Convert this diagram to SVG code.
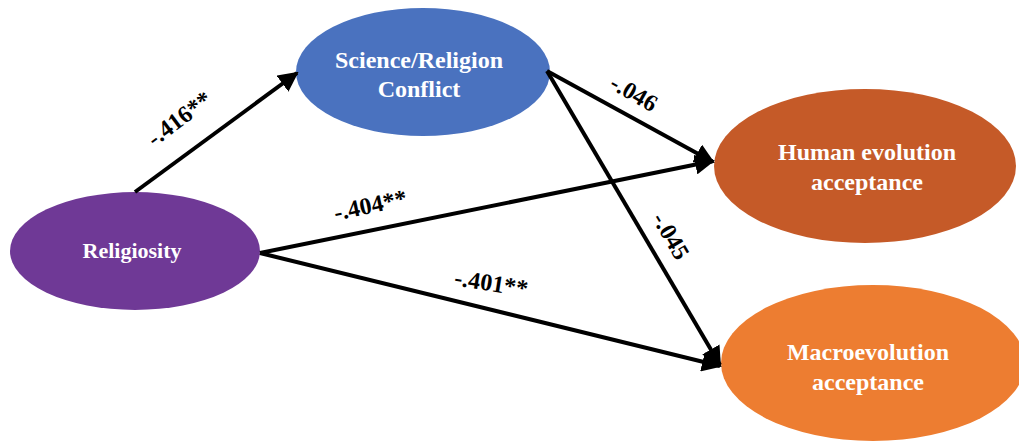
<svg xmlns="http://www.w3.org/2000/svg" width="1019" height="441" viewBox="0 0 1019 441">
<defs>
<style>
.node text{font-family:"Liberation Serif","Times New Roman",serif;font-weight:bold;font-size:24px;fill:#fff;text-anchor:middle}
.node text.sm{font-size:22px}
.conn line{stroke:#000;stroke-width:4;marker-end:url(#ah)}
.lbl{font-family:"Liberation Serif","Times New Roman",serif;font-weight:bold;font-size:24px;fill:#000;text-anchor:middle}
</style>
<marker id="ah" viewBox="0 0 10 10" refX="9" refY="5" markerWidth="5" markerHeight="5" orient="auto" markerUnits="strokeWidth">
<path d="M0,0 L10,5 L0,10 z" fill="#000"/>
</marker>
</defs>
<rect width="1019" height="441" fill="#fff"/>
<g id="n-religiosity" class="node"><ellipse cx="135" cy="251" rx="125" ry="59" fill="#6F3996"/><text class="sm" x="132" y="258">Religiosity</text></g>
<g id="n-conflict" class="node"><ellipse cx="423" cy="72" rx="127" ry="64" fill="#4A72BF"/><text x="419" y="68">Science/Religion</text><text x="419" y="97">Conflict</text></g>
<g id="n-human" class="node"><ellipse cx="865" cy="166" rx="151" ry="77" fill="#C55A28"/><text x="867" y="160">Human evolution</text><text x="867" y="190">acceptance</text></g>
<g id="n-macro" class="node"><ellipse cx="873" cy="363" rx="152" ry="78" fill="#ED7D31"/><text x="868" y="360">Macroevolution</text><text x="868" y="390">acceptance</text></g>
<g id="connectors" class="conn">
<line x1="135" y1="192" x2="297" y2="73"/>
<line x1="547" y1="71" x2="713" y2="162"/>
<line x1="547" y1="71" x2="720" y2="365"/>
<line x1="260" y1="253" x2="713" y2="161"/>
<line x1="260" y1="253" x2="720" y2="366"/>
</g>
<g id="labels">
<text class="lbl" transform="translate(184,125) rotate(-37)">-.416**</text>
<text class="lbl" transform="translate(630,100) rotate(30)">-.046</text>
<text class="lbl" transform="translate(372,213) rotate(-12)">-.404**</text>
<text class="lbl" transform="translate(490,291) rotate(9)">-.401**</text>
<text class="lbl" transform="translate(664,240) rotate(60)">-.045</text>
</g>
</svg>
